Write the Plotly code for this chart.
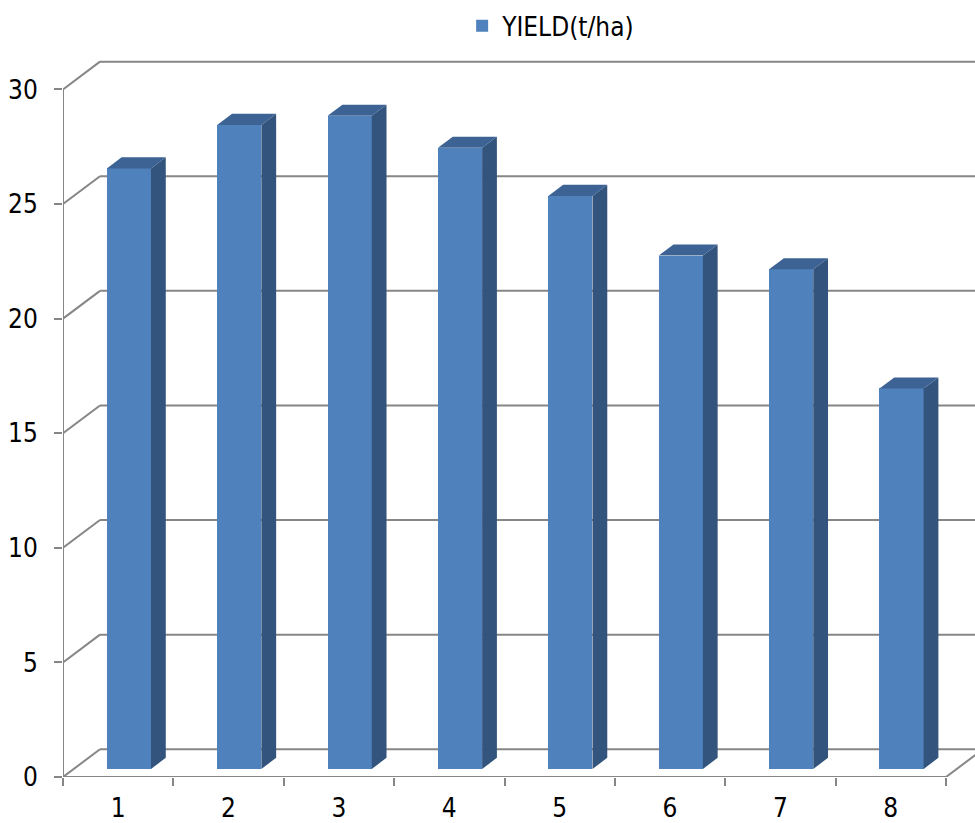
import plotly.graph_objects as go

# Yield per plot (t/ha)
categories = ["1", "2", "3", "4", "5", "6", "7", "8"]
yield_t_ha = [26.2, 28.1, 28.5, 27.1, 25.0, 22.4, 21.8, 16.6]
y_ticks = [0, 5, 10, 15, 20, 25, 30]
series_name = "YIELD(t/ha)"

# Oblique "3-D" projection, expressed in axis units
DEPTH_X = 0.335   # x shift of the back wall
DEPTH_Y = 1.21    # y shift of the back wall
BAR_Z0 = 0.29     # depth fraction of the bar front face
BAR_DZ = 0.40     # bar depth as fraction of the wall depth
BAR_W = 0.40      # bar width in category units

FRONT = "#4F81BD"
SIDE = "#32547D"
TOP = "#3C6393"
GRID = "#868686"
FONT = "DejaVu Sans Condensed, DejaVu Sans, sans-serif"

n = len(categories)
x_max = 912 / 110.375
y_max = 724 / 22.92

fig = go.Figure()

# front wall frame: vertical value axis line
fig.add_trace(go.Scatter(
    x=[0, 0], y=[0, y_ticks[-1]], mode="lines",
    line=dict(color=GRID, width=2), cliponaxis=False,
    showlegend=False, hoverinfo="skip"))

shapes = []
for v in y_ticks:
    # back-wall gridline
    shapes.append(dict(type="line", xref="x", yref="y", layer="below",
                       x0=DEPTH_X, y0=v + DEPTH_Y, x1=n + DEPTH_X + 1, y1=v + DEPTH_Y,
                       line=dict(color=GRID, width=2)))
    # side-wall diagonal
    shapes.append(dict(type="line", xref="x", yref="y", layer="below",
                       x0=0, y0=v, x1=DEPTH_X, y1=v + DEPTH_Y,
                       line=dict(color=GRID, width=2)))
# floor front edge and right diagonal
shapes.append(dict(type="line", xref="x", yref="y", layer="below",
                   x0=0, y0=0, x1=n, y1=0, line=dict(color=GRID, width=2)))
shapes.append(dict(type="line", xref="x", yref="y", layer="below",
                   x0=n, y0=0, x1=n + DEPTH_X, y1=DEPTH_Y,
                   line=dict(color=GRID, width=2)))

# bar front faces
ox = DEPTH_X * BAR_Z0
oy = DEPTH_Y * BAR_Z0
centers = [i + 0.5 + ox for i in range(n)]
fig.add_trace(go.Bar(
    x=centers, y=yield_t_ha, base=oy, width=BAR_W,
    marker=dict(color=FRONT, line=dict(width=0)),
    name=series_name, showlegend=True, hoverinfo="skip"))

# bar side and top faces
ddx = DEPTH_X * BAR_DZ
ddy = DEPTH_Y * BAR_DZ
for c, v in zip(centers, yield_t_ha):
    xl, xr = c - BAR_W / 2, c + BAR_W / 2
    top = oy + v
    fig.add_trace(go.Scatter(
        x=[xr, xr + ddx, xr + ddx, xr, xr],
        y=[oy, oy + ddy, top + ddy, top, oy],
        fill="toself", fillcolor=SIDE, mode="lines", line=dict(width=0),
        showlegend=False, hoverinfo="skip"))
    fig.add_trace(go.Scatter(
        x=[xl, xr, xr + ddx, xl + ddx, xl],
        y=[top, top, top + ddy, top + ddy, top],
        fill="toself", fillcolor=TOP, mode="lines", line=dict(width=0),
        showlegend=False, hoverinfo="skip"))

fig.update_layout(
    width=975, height=823,
    margin=dict(l=63, r=0, t=53, b=46),
    plot_bgcolor="white", paper_bgcolor="white",
    shapes=shapes,
    bargap=0,
    font=dict(family=FONT, color="#000000", size=26),
    legend=dict(xref="container", yref="container", x=0.474, y=0.997,
                xanchor="left", yanchor="top", orientation="h",
                font=dict(family=FONT, size=26, color="#000000"),
                bgcolor="rgba(0,0,0,0)"),
    xaxis=dict(range=[0, x_max], showgrid=False, zeroline=False, showline=False,
               tickmode="array", tickvals=[i + 0.5 for i in range(n)],
               ticktext=categories, ticks="", ticklabelstandoff=13,
               tickfont=dict(family=FONT, size=26),
               minor=dict(tickmode="array", tickvals=list(range(n + 1)),
                          ticks="outside", ticklen=8, tickwidth=2, tickcolor=GRID,
                          showgrid=False)),
    yaxis=dict(range=[0, y_max], showgrid=False, zeroline=False, showline=False,
               tickmode="array", tickvals=y_ticks, ticks="outside", ticklen=8,
               tickwidth=2, tickcolor=GRID, ticklabelstandoff=11,
               tickfont=dict(family=FONT, size=26)),
)

fig.write_html("out.html")
